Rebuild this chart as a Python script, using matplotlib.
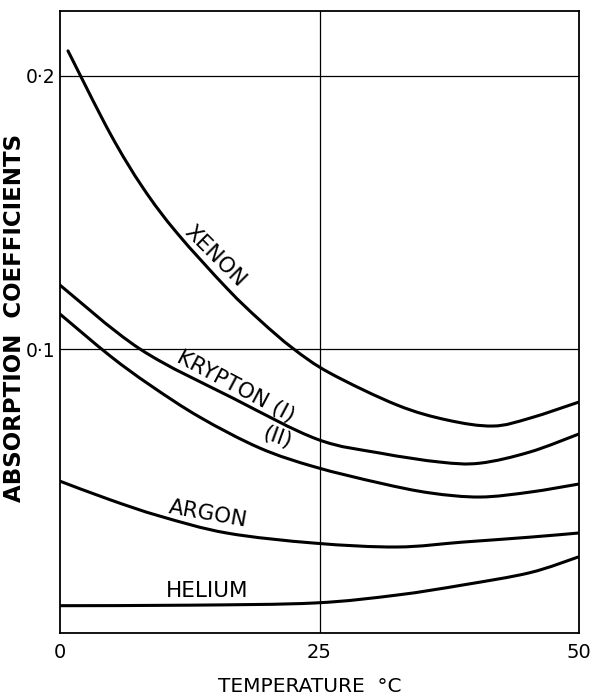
import matplotlib
matplotlib.use("Agg")
import matplotlib.pyplot as plt
from matplotlib.path import Path
from matplotlib.patches import PathPatch

# ---- data (temperature in deg C, absorption coefficient) ----
xenon_t = [0.77, 4.82, 8.0, 11.27, 16.09, 19.27, 22.45, 26.0, 32.47, 37.3, 41.72, 45.28, 50.0]
xenon_v = [0.2092, 0.179, 0.159, 0.1425, 0.1222, 0.1105, 0.1002, 0.0912, 0.0795, 0.074, 0.0718, 0.0747, 0.0806]

krypton1_t = [0.0, 7.71, 16.67, 24.76, 30.83, 36.61, 40.46, 45.28, 50.0]
krypton1_v = [0.1234, 0.100, 0.0820, 0.0670, 0.0619, 0.0586, 0.0582, 0.0623, 0.0689]

krypton2_t = [0.0, 4.82, 8.67, 13.49, 19.27, 24.57, 30.83, 35.65, 40.46, 45.28, 49.9]
krypton2_v = [0.1128, 0.0975, 0.0868, 0.075, 0.0637, 0.0568, 0.0509, 0.0473, 0.0458, 0.0476, 0.0505]

argon_t = [0.0, 4.82, 9.63, 16.09, 24.57, 32.47, 38.83, 45.28, 49.9]
argon_v = [0.0516, 0.0448, 0.0388, 0.0326, 0.0289, 0.0275, 0.0293, 0.0311, 0.0326]

helium_t = [0.0, 12.81, 24.57, 32.47, 38.83, 45.28, 49.9]
helium_v = [0.0060, 0.0062, 0.0070, 0.0099, 0.0136, 0.0181, 0.0238]

x_ticks = [0, 25, 50]
x_tick_labels = ["0", "25", "50"]
y_ticks = [0.1, 0.2]
y_tick_labels = ["0·1", "0·2"]

plt.rcParams['font.family'] = ['DejaVu Sans']


def smooth_path(t, v):
    """Catmull-Rom style Bezier path passing through the data points."""
    pts = list(zip(t, v))
    verts = [pts[0]]
    codes = [Path.MOVETO]
    n = len(pts)
    for i in range(n - 1):
        p0 = pts[i - 1] if i > 0 else pts[i]
        p1 = pts[i]
        p2 = pts[i + 1]
        p3 = pts[i + 2] if i + 2 < n else pts[i + 1]
        c1 = (p1[0] + (p2[0] - p0[0]) / 6.0, p1[1] + (p2[1] - p0[1]) / 6.0)
        c2 = (p2[0] - (p3[0] - p1[0]) / 6.0, p2[1] - (p3[1] - p1[1]) / 6.0)
        verts += [c1, c2, p2]
        codes += [Path.CURVE4] * 3
    return Path(verts, codes)


fig = plt.figure(figsize=(5.94, 6.97), dpi=100)
ax = fig.add_axes([60/594, 1-633/697, (579-60)/594, (633-11)/697])

ax.set_xlim(0, 50)
ax.set_ylim(-0.004, 0.2238)

# grid lines
ax.axvline(25, color='black', lw=0.9, zorder=1)
for yv in y_ticks:
    ax.axhline(yv, color='black', lw=0.9, zorder=1)

for t, v in [(xenon_t, xenon_v), (krypton1_t, krypton1_v), (krypton2_t, krypton2_v),
             (argon_t, argon_v), (helium_t, helium_v)]:
    patch = PathPatch(smooth_path(t, v), facecolor='none', edgecolor='black', lw=2.2,
                      capstyle='round', joinstyle='round', zorder=3)
    ax.add_patch(patch)

for s in ax.spines.values():
    s.set_linewidth(1.3)

ax.set_xticks(x_ticks)
ax.set_xticklabels(x_tick_labels, fontsize=14)
ax.set_yticks(y_ticks)
ax.set_yticklabels(y_tick_labels, fontsize=13.5)
ax.tick_params(axis='x', length=0, pad=7)
ax.tick_params(axis='y', length=0, pad=3)

fig.text(310/594, 1-687/697, "TEMPERATURE  °C", fontsize=14.5, ha='center', va='center')
fig.text(15/594, 1-318/697, "ABSORPTION  COEFFICIENTS", fontsize=16.5, ha='center', va='center',
         rotation=90, fontweight='bold')

lab = dict(fontsize=15.5, ha='center', va='center', color='black')
ax.text(14.9, 0.134, "XENON", rotation=-45, **lab)
ax.text(16.9, 0.0861, "KRYPTON (I)", rotation=-28, **lab)
ax.text(20.9, 0.0674, "(II)", rotation=-20, **lab)
ax.text(14.3, 0.0396, "ARGON", rotation=-10, **lab)
ax.text(14.2, 0.0114, "HELIUM", rotation=0, **lab)

fig.savefig("out.png", dpi=100)
